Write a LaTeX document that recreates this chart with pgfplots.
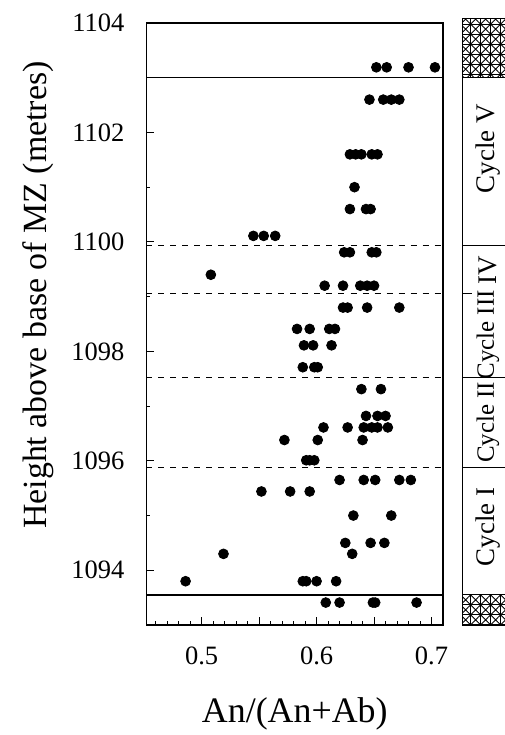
\documentclass[border=0pt]{standalone}
\usepackage{pgfplots}
\pgfplotsset{compat=1.18}
\usepackage{fontspec}
\setmainfont{Liberation Serif}
\usetikzlibrary{patterns.meta}
\begin{document}
\begin{tikzpicture}
\useasboundingbox (-73.25bp,-55bp) rectangle (179.25bp,312.5bp);
\begin{axis}[
  scale only axis, width=148.25bp, height=301bp,
  xmin=0.452, xmax=0.71, ymin=1093, ymax=1104,
  axis line style={line width=0.6bp},
  tick align=inside, xtick pos=bottom, ytick pos=left,
  xtick={0.5,0.55,0.6,0.65,0.7}, xticklabels={0.5,,0.6,,0.7},
  minor xtick={0.46,0.47,0.48,0.49,0.51,0.52,0.53,0.54,0.56,0.57,0.58,0.59,0.61,0.62,0.63,0.64,0.66,0.67,0.68,0.69},
  ytick={1094,1096,1098,1100,1102,1104}, yticklabels={1094,1096,1098,1100,1102,1104},
  minor ytick={1093,1095,1097,1099,1101,1103},
  major tick length=4bp, minor tick length=2bp,
  tick style={line width=0.5bp, black},
  clip=false,
  xticklabel shift=7.5bp, yticklabel shift=7.5bp,
  ticklabel style={font=\fontsize{13.3}{15}\selectfont},
  xlabel={An/(An+Ab)},
  xlabel style={font=\fontsize{18}{20}\selectfont, at={(axis description cs:0.5,0)}, anchor=base, yshift=-48.5bp},
  ylabel={Height above base of MZ (metres)},
  ylabel style={font=\fontsize{17}{19}\selectfont, at={(axis description cs:-0.364,0.548)}, anchor=center},
]
\addplot[only marks, mark=*, mark size=2.45bp, black] coordinates {
(0.652,1103.19) (0.661,1103.19) (0.680,1103.19) (0.703,1103.19)
(0.646,1102.60) (0.658,1102.60) (0.665,1102.60) (0.672,1102.60)
(0.629,1101.60) (0.634,1101.60) (0.639,1101.60) (0.648,1101.60) (0.653,1101.60)
(0.633,1101.00)
(0.629,1100.60) (0.643,1100.60) (0.647,1100.60)
(0.545,1100.11) (0.554,1100.11) (0.564,1100.11)
(0.624,1099.81) (0.629,1099.81) (0.648,1099.81) (0.652,1099.81)
(0.508,1099.40)
(0.607,1099.20) (0.623,1099.20) (0.638,1099.20) (0.644,1099.20) (0.650,1099.20)
(0.623,1098.80) (0.627,1098.80) (0.644,1098.80) (0.672,1098.80)
(0.583,1098.41) (0.594,1098.41) (0.611,1098.41) (0.616,1098.41)
(0.589,1098.11) (0.597,1098.11) (0.613,1098.11)
(0.588,1097.71) (0.598,1097.71) (0.601,1097.71)
(0.639,1097.31) (0.656,1097.31)
(0.643,1096.82) (0.653,1096.82) (0.660,1096.82)
(0.606,1096.61) (0.627,1096.61) (0.641,1096.61) (0.648,1096.61) (0.653,1096.61) (0.662,1096.61)
(0.572,1096.38) (0.601,1096.38) (0.640,1096.38)
(0.591,1096.01) (0.594,1096.01) (0.598,1096.01)
(0.620,1095.65) (0.641,1095.65) (0.651,1095.65) (0.672,1095.65) (0.682,1095.65)
(0.552,1095.44) (0.577,1095.44) (0.594,1095.44)
(0.632,1095.00) (0.665,1095.00)
(0.625,1094.50) (0.647,1094.50) (0.659,1094.50)
(0.519,1094.30) (0.631,1094.30)
(0.486,1093.80) (0.588,1093.80) (0.591,1093.80) (0.600,1093.80) (0.617,1093.80)
(0.608,1093.41) (0.620,1093.41) (0.649,1093.41) (0.651,1093.41) (0.687,1093.41)
};
% solid horizon lines
\draw[line width=0.6bp] (axis cs:0.452,1103) -- (axis cs:0.71,1103);
\draw[line width=0.6bp] (axis cs:0.452,1093.55) -- (axis cs:0.71,1093.55);
% dashed cycle boundaries
\draw[line width=0.5bp, dash pattern=on 3bp off 3bp] (axis cs:0.452,1099.93) -- (axis cs:0.71,1099.93);
\draw[line width=0.5bp, dash pattern=on 3bp off 3bp] (axis cs:0.452,1099.05) -- (axis cs:0.71,1099.05);
\draw[line width=0.5bp, dash pattern=on 3bp off 3bp] (axis cs:0.452,1097.52) -- (axis cs:0.71,1097.52);
\draw[line width=0.5bp, dash pattern=on 3bp off 3bp] (axis cs:0.452,1095.88) -- (axis cs:0.71,1095.88);
% side column hatches
\fill[pattern={Hatch[angle=0,distance=5bp,line width=0.5bp]}] (axis cs:0.7272,1103) rectangle (axis cs:0.78,1104.08);
\fill[pattern={Hatch[angle=45,distance=3.54bp,line width=0.45bp]}] (axis cs:0.7272,1103) rectangle (axis cs:0.78,1104.08);
\fill[pattern={Hatch[angle=0,distance=5bp,line width=0.5bp]}] (axis cs:0.7272,1093) rectangle (axis cs:0.78,1093.55);
\fill[pattern={Hatch[angle=45,distance=3.54bp,line width=0.45bp]}] (axis cs:0.7272,1093) rectangle (axis cs:0.78,1093.55);
% side column frame and dividers
\draw[line width=0.5bp] (axis cs:0.78,1104.08) -- (axis cs:0.7272,1104.08) -- (axis cs:0.7272,1093) -- (axis cs:0.78,1093);
\draw[line width=0.5bp] (axis cs:0.7272,1103) -- (axis cs:0.78,1103);
\draw[line width=0.5bp] (axis cs:0.7272,1093.55) -- (axis cs:0.78,1093.55);
\draw[line width=0.5bp] (axis cs:0.7272,1099.93) -- (axis cs:0.78,1099.93);
\draw[line width=0.5bp] (axis cs:0.7272,1097.52) -- (axis cs:0.78,1097.52);
\draw[line width=0.5bp] (axis cs:0.7272,1095.88) -- (axis cs:0.78,1095.88);
\draw[line width=0.5bp] (axis cs:0.7272,1099.05) -- (axis cs:0.735,1099.05);
\node[rotate=90, inner sep=0pt, font=\fontsize{13.5}{16}\selectfont] at (axis cs:0.749,1101.7) {Cycle V};
\node[rotate=90, inner sep=0pt, font=\fontsize{13.5}{16}\selectfont] at (axis cs:0.749,1099.49) {IV};
\node[rotate=90, inner sep=0pt, font=\fontsize{12.5}{15}\selectfont] at (axis cs:0.749,1098.3) {Cycle III};
\node[rotate=90, inner sep=0pt, font=\fontsize{12.5}{15}\selectfont] at (axis cs:0.749,1096.7) {Cycle II};
\node[rotate=90, inner sep=0pt, font=\fontsize{13.5}{16}\selectfont] at (axis cs:0.749,1094.79) {Cycle I};
\end{axis}
\end{tikzpicture}
\end{document}
